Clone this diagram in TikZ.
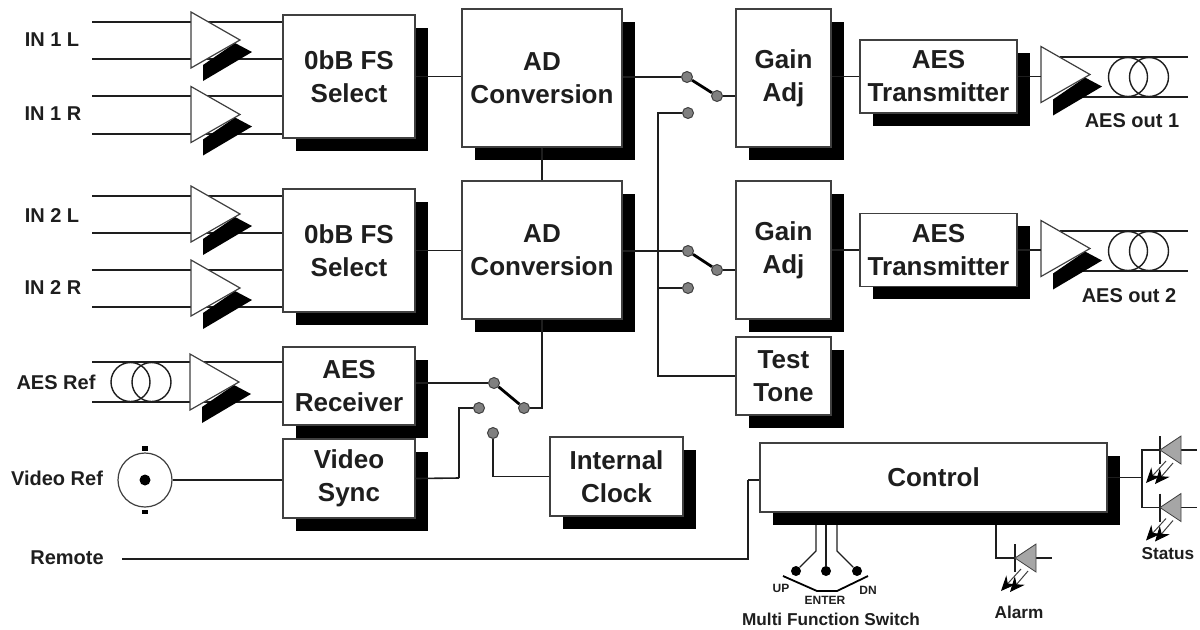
\documentclass[tikz,border=0pt]{standalone}
\usepackage{fontspec}
\setmainfont{Liberation Sans}
\usetikzlibrary{shadows,arrows.meta}
\definecolor{ink}{HTML}{1E1E1E}
\definecolor{edge}{HTML}{404040}
\tikzset{
  block/.style={draw=edge,line width=0.7pt,fill=white,inner sep=0pt,align=center,text=ink,
    font=\bfseries\fontsize{13}{16.5}\selectfont,
    drop shadow={shadow xshift=6.25pt,shadow yshift=-6.25pt,fill=black,opacity=1}},
  wire/.style={draw=ink,line width=0.8pt},
  arm/.style={draw=black,line width=1.4pt},
  contact/.style={circle,draw=edge,fill=gray,line width=0.5pt,inner sep=0pt,minimum size=5.5pt},
  dot/.style={circle,fill=black,inner sep=0pt,minimum size=5pt},
  lab/.style={text=ink,font=\bfseries\fontsize{10}{12}\selectfont,inner sep=0pt},
  smalllab/.style={text=ink,font=\bfseries\fontsize{6}{7}\selectfont,inner sep=0pt},
  amp/.pic={
    \fill[black] (12,25) -- (44,3) -- (61,12) -- (12,41) -- cycle;
    \draw[draw=edge,line width=0.6pt,fill=white] (0,-28) -- (49,0) -- (0,28) -- cycle;
  },
  xfmr/.pic={
    \draw[draw=ink,line width=0.7pt] (-10.5,0) circle (19.5);
    \draw[draw=ink,line width=0.7pt] (10.5,0) circle (19.5);
  },
  led/.pic={
    \draw[wire,line width=0.6pt] (0,-14) to (0,14);
    \draw[wire,line width=0.6pt] (21,0) to (37,0);
    \draw[draw=edge,line width=0.4pt,fill=gray!70] (0,0) -- (21,-14) -- (21,14) -- cycle;
    \draw[draw=edge,line width=0.5pt,-{Stealth[length=7.5pt,width=6.5pt,black]}] (6,11) to (-14,33);
    \draw[draw=edge,line width=0.5pt,-{Stealth[length=7.5pt,width=6.5pt,black]}] (13,13) to (-5,34);
  }
}
\begin{document}
\begin{tikzpicture}[x=0.5pt,y=-0.5pt]
  \useasboundingbox (0,0) rectangle (1200,629);
  % blocks
  \node[block,minimum width=66pt,minimum height=61.5pt] (sel1) at (349,76.5) {0bB FS\\Select};
  \node[block,minimum width=66pt,minimum height=61.5pt] (sel2) at (349,250.5) {0bB FS\\Select};
  \node[block,minimum width=80pt,minimum height=69pt] (ad1) at (542,78) {AD\\Conversion};
  \node[block,minimum width=80pt,minimum height=69pt] (ad2) at (542,250) {AD\\Conversion};
  \node[block,minimum width=47.5pt,minimum height=69pt] (gain1) at (783.5,78) {Gain\\Adj};
  \node[block,minimum width=47.5pt,minimum height=69pt] (gain2) at (783.5,250) {Gain\\Adj};
  \node[block,minimum width=78.5pt,minimum height=36.5pt] (tx1) at (938.5,76.5) {AES\\Transmitter};
  \node[block,minimum width=78.5pt,minimum height=36.5pt] (tx2) at (938.5,250) {AES\\Transmitter};
  \node[block,minimum width=47.5pt,minimum height=39pt] (tone) at (783.5,376) {Test\\Tone};
  \node[block,minimum width=66pt,minimum height=39pt] (rx) at (349,386) {AES\\Receiver};
  \node[block,minimum width=66pt,minimum height=39.5pt] (sync) at (349,478.5) {Video\\Sync};
  \node[block,minimum width=66.5pt,minimum height=39.5pt] (clk) at (616.5,476.5) {Internal\\Clock};
  \node[block,minimum width=173.5pt,minimum height=34.5pt] (ctrl) at (933.5,477.5) {Control};
  % switch contacts
  \node[contact] (s1a) at (687,77) {};
  \node[contact] (s1b) at (717,96) {};
  \node[contact] (s1c) at (688,113) {};
  \node[contact] (s2a) at (688,251) {};
  \node[contact] (s2b) at (717,270) {};
  \node[contact] (s2c) at (688,288) {};
  \node[contact] (s3a) at (494,383) {};
  \node[contact] (s3b) at (524,408) {};
  \node[contact] (s3c) at (479,408) {};
  \node[contact] (s3d) at (493,433) {};
  % input and output pairs
  \foreach \name/\y in {a/22,b/59,c/96,d/134,e/196,f/233,g/270,h/307,r/362,s/402}{
    \coordinate (in\name) at (92,\y);
  }
  \draw[wire] (ina) to (ina -| sel1.west);
  \draw[wire] (inb) to (inb -| sel1.west);
  \draw[wire] (inc) to (inc -| sel1.west);
  \draw[wire] (ind) to (ind -| sel1.west);
  \draw[wire] (ine) to (ine -| sel2.west);
  \draw[wire] (inf) to (inf -| sel2.west);
  \draw[wire] (ing) to (ing -| sel2.west);
  \draw[wire] (inh) to (inh -| sel2.west);
  \draw[wire] (inr) to (inr -| rx.west);
  \draw[wire] (ins) to (ins -| rx.west);
  \coordinate (o1a) at (1060,57);
  \coordinate (o1b) at (1188,57);
  \coordinate (o1c) at (1060,97);
  \coordinate (o1d) at (1188,97);
  \coordinate (o2a) at (1060,231);
  \coordinate (o2b) at (1188,231);
  \coordinate (o2c) at (1060,271);
  \coordinate (o2d) at (1188,271);
  \draw[wire] (o1a) to (o1b);
  \draw[wire] (o1c) to (o1d);
  \draw[wire] (o2a) to (o2b);
  \draw[wire] (o2c) to (o2d);
  % amplifiers and transformers
  \pic at (191,40) {amp};
  \pic at (191,114.5) {amp};
  \pic at (191,214) {amp};
  \pic at (191,288) {amp};
  \pic at (190,382) {amp};
  \pic at (1041,74.5) {amp};
  \pic at (1041,248.5) {amp};
  \pic at (1138.5,77) {xfmr};
  \pic at (1138.5,251) {xfmr};
  \pic at (141,382) {xfmr};
  % BNC connector
  \node[circle,draw=edge,line width=0.6pt,fill=white,inner sep=0pt,minimum size=27pt] (bnc) at (145,480) {};
  \node[dot,minimum size=5.5pt] (bncpin) at (145,480) {};
  \fill[black] (142,446) rectangle (148,450.5);
  \fill[black] (142,509.5) rectangle (148,514);
  \draw[wire] (bnc.east) to (bnc.east -| sync.west);
  % signal path
  \draw[wire] (sel1.east) to (sel1.east -| ad1.west);
  \draw[wire] (sel2.east) to (sel2.east -| ad2.west);
  \draw[wire] (ad1.south) to (ad2.north);
  \draw[wire] (tx1.east) to (tx1.east -| 1041,0);
  \draw[wire] (tx2.east) to (tx2.east -| 1041,0);
  \draw[wire] (gain1.east |- tx1.east) to (tx1.west);
  \draw[wire] (gain2.east |- tx2.east) to (tx2.west);
  \draw[wire] (ad1.east |- s1a) to (s1a);
  \draw[wire] (ad2.east |- s2a) to (s2a);
  \draw[arm] (s1a) to (s1b);
  \draw[arm] (s2a) to (s2b);
  \draw[wire] (s1b) to (s1b -| gain1.west);
  \draw[wire] (s2b) to (s2b -| gain2.west);
  \coordinate (tap) at (658,288);
  \draw[wire] (s1c) -| (tap);
  \draw[wire] (s2c) to (tap);
  \draw[wire] (tap) |- (tone.west);
  % reference path
  \draw[wire] (rx.east |- s3a) to (s3a);
  \draw[arm] (s3a) to (s3b);
  \draw[wire] (s3b) -| (ad2.south);
  \coordinate (syncbend) at (459,478);
  \draw[wire] (s3c) -| (syncbend);
  \draw[wire] (syncbend) to (sync.east);
  \draw[wire] (s3d) |- (clk.west);
  % remote
  \coordinate (remstart) at (122,559);
  \coordinate (rembend) at (748,480);
  \draw[wire] (remstart) -| (rembend);
  \draw[wire] (rembend) to (rembend -| ctrl.west);
  % multi function switch
  \node[dot] (up) at (796,571) {};
  \node[dot] (enter) at (826,571) {};
  \node[dot] (dn) at (857,571) {};
  \coordinate (upk) at (816,551);
  \coordinate (dnk) at (837,551);
  \draw[wire,line width=0.6pt] (816,525) to (upk) to (up);
  \draw[wire,line width=0.6pt] (826,525) to (enter);
  \draw[wire,line width=0.6pt] (837,525) to (dnk) to (dn);
  \coordinate (bara) at (783,576);
  \coordinate (barb) at (817,591);
  \coordinate (barc) at (837,591);
  \coordinate (bard) at (868,576);
  \draw[arm,line width=0.9pt] (bara) to (barb) to (barc) to (bard);
  % status and alarm
  \coordinate (stat) at (1142,477.5);
  \coordinate (stattop) at (1142,450);
  \coordinate (statbot) at (1142,507.5);
  \coordinate (stata) at (1160,450);
  \coordinate (statb) at (1160,507.5);
  \coordinate (alarmk) at (1015,558);
  \draw[wire] (ctrl.east) to (stat);
  \draw[wire] (stata) to (stattop) to (statbot) to (statb);
  \draw[wire] (996,525) |- (alarmk);
  \pic at (stata) {led};
  \pic at (statb) {led};
  \pic at (alarmk) {led};
  % labels
  \node[lab] (in1l) at (52,40) {IN 1 L};
  \node[lab] (in1r) at (53,114) {IN 1 R};
  \node[lab] (in2l) at (52,216) {IN 2 L};
  \node[lab] (in2r) at (53,288) {IN 2 R};
  \node[lab] (aesref) at (56,382) {AES Ref};
  \node[lab] (videoref) at (57,478) {Video Ref};
  \node[lab] (remote) at (67,558) {Remote};
  \node[lab] (out1) at (1132,121) {AES out 1};
  \node[lab] (out2) at (1129,296) {AES out 2};
  \node[lab,font=\bfseries\fontsize{8.6}{10}\selectfont] (status) at (1168,554) {Status};
  \node[lab,font=\bfseries\fontsize{8.6}{10}\selectfont] (alarm) at (1019,612) {Alarm};
  \node[lab,font=\bfseries\fontsize{8.6}{10}\selectfont] (multi) at (831,619) {Multi Function Switch};
  \node[smalllab] (uplab) at (781,588) {UP};
  \node[smalllab] (enterlab) at (825,600) {ENTER};
  \node[smalllab] (dnlab) at (868,590) {DN};
\end{tikzpicture}
\end{document}
